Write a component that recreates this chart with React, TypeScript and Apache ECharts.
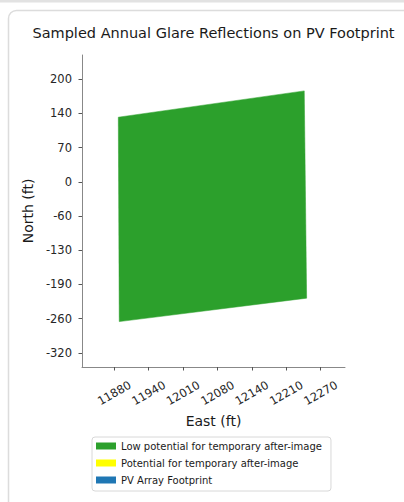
import React, { useEffect, useRef } from "react";
import * as echarts from "echarts";

// ---- data ----
const chartTitle = "Sampled Annual Glare Reflections on PV Footprint";
const xTickValues = [11880, 11945, 12010, 12075, 12140, 12205, 12270];
const xTickLabels = ["11880", "11940", "12010", "12080", "12140", "12210", "12270"];
const yTickValues = [-320, -255, -190, -125, -60, 5, 70, 135, 200];
const yTickLabels = ["-320", "-260", "-190", "-130", "-60", "0", "70", "140", "200"];
const xRange = [11819, 12316];
const yRange = [-347, 246];
// polygon corners of the sampled reflections (east ft, north ft)
const lowPotentialEast = [11887.6, 12239, 12243.5, 11889.4];
const lowPotentialNorth = [127.8, 177.8, -216.2, -260.7];
const seriesNames = [
  "Low potential for temporary after-image",
  "Potential for temporary after-image",
  "PV Array Footprint",
];
const seriesColors = ["#2ca02c", "#ffff00", "#1f77b4"];

const FONT = "DejaVu Sans";

export default function App() {
  const ref = useRef<HTMLDivElement>(null);
  useEffect(() => {
    if (!ref.current) return;
    const chart = echarts.init(ref.current, undefined, { renderer: "svg" });
    const lowData = lowPotentialEast.map((e, i) => [e, lowPotentialNorth[i]]);
    const option: any = {
      animation: false,
      backgroundColor: "#ffffff",
      graphic: [
        {
          type: "rect",
          z: -10,
          shape: { x: 0, y: 0, width: 404, height: 2.5 },
          style: { fill: "#e2e2e2" },
          silent: true,
        },
        {
          type: "rect",
          z: -10,
          shape: { x: 8.5, y: 10.5, width: 500, height: 600, r: 8 },
          style: { fill: "none", stroke: "#dcdcdc", lineWidth: 1.5 },
          silent: true,
        },
        {
          type: "text",
          x: 213.5,
          y: 33,
          style: {
            text: chartTitle,
            font: `14.5px "${FONT}"`,
            fill: "#1a1a1a",
            align: "center",
            verticalAlign: "middle",
            textAlign: "center",
            textVerticalAlign: "middle",
          },
        },
      ],
      grid: { left: 82, top: 55, right: 59, bottom: 135, containLabel: false },
      legend: {
        orient: "vertical",
        left: 92,
        top: 437,
        padding: [4, 9, 6, 4],
        itemGap: 7,
        itemWidth: 20,
        itemHeight: 7,
        icon: "rect",
        borderColor: "#d8d8d8",
        borderWidth: 1,
        borderRadius: 3,
        backgroundColor: "#ffffff",
        textStyle: { fontFamily: FONT, fontSize: 10, color: "#1a1a1a" },
        data: seriesNames,
      },
      xAxis: {
        type: "value",
        min: xRange[0],
        max: xRange[1],
        name: "East (ft)",
        nameLocation: "middle",
        nameGap: 43,
        nameTextStyle: { fontFamily: FONT, fontSize: 14, color: "#1a1a1a" },
        axisLine: { show: true, onZero: false, lineStyle: { color: "#888", width: 1 } },
        axisTick: { show: true, length: 3.5, lineStyle: { color: "#555" }, customValues: xTickValues },
        axisLabel: {
          customValues: xTickValues,
          rotate: 30,
          align: "center",
          verticalAlign: "middle",
          margin: 26,
          fontFamily: FONT,
          fontSize: 11.5,
          color: "#262626",
          formatter: (v: number) => {
            const i = xTickValues.indexOf(v);
            return i >= 0 ? xTickLabels[i] : "";
          },
        },
        splitLine: { show: false },
      },
      yAxis: {
        type: "value",
        min: yRange[0],
        max: yRange[1],
        name: "North (ft)",
        nameLocation: "middle",
        nameGap: 43,
        nameTextStyle: { fontFamily: FONT, fontSize: 14, color: "#1a1a1a" },
        axisLine: { show: true, onZero: false, lineStyle: { color: "#888", width: 1 } },
        axisTick: { show: true, length: 3.5, lineStyle: { color: "#555" }, customValues: yTickValues },
        axisLabel: {
          customValues: yTickValues,
          margin: 10,
          fontFamily: FONT,
          fontSize: 11.5,
          color: "#262626",
          formatter: (v: number) => {
            const i = yTickValues.indexOf(v);
            return i >= 0 ? yTickLabels[i] : "";
          },
        },
        splitLine: { show: false },
      },
      series: [
        {
          name: seriesNames[0],
          type: "custom",
          itemStyle: { color: seriesColors[0] },
          data: lowData,
          renderItem: (params: any, api: any) => {
            if (params.dataIndex !== 0) return null;
            const pts = lowData.map((d) => api.coord(d));
            return {
              type: "polygon",
              shape: { points: pts },
              style: { fill: seriesColors[0], stroke: seriesColors[0], lineWidth: 0.5 },
            };
          },
        },
        {
          name: seriesNames[1],
          type: "custom",
          itemStyle: { color: seriesColors[1] },
          data: [],
          renderItem: () => null,
        },
        {
          name: seriesNames[2],
          type: "custom",
          itemStyle: { color: seriesColors[2] },
          data: [],
          renderItem: () => null,
        },
      ],
    };
    chart.setOption(option);
    return () => chart.dispose();
  }, []);
  return (
    <div
      ref={ref}
      style={{ position: "fixed", left: 0, top: 0, width: 404, height: 502 }}
    />
  );
}
